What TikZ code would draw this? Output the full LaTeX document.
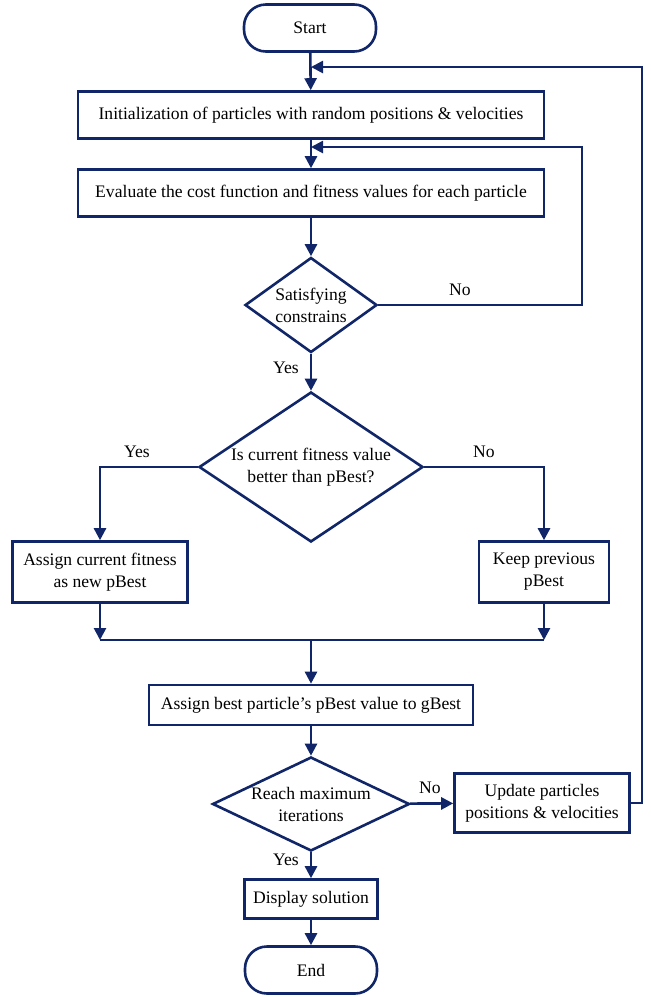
\documentclass[tikz,border=0pt]{standalone}
\usepackage{fontspec}
\setmainfont{Liberation Serif}
\usetikzlibrary{shapes.geometric,arrows.meta}
\definecolor{navy}{RGB}{16,38,104}
\tikzset{
  terminal/.style={draw=navy,line width=1.3pt,rounded corners=11pt,minimum width=66pt,minimum height=23.5pt,inner sep=1pt},
  process/.style={draw=navy,line width=1.3pt,minimum width=233pt,minimum height=23.5pt,inner sep=1pt},
  decision/.style={draw=navy,line width=1.3pt,diamond,inner sep=-3pt,align=center},
  flow/.style={draw=navy,line width=1.3pt,-{Triangle[length=6pt,width=6pt]}},
  line/.style={draw=navy,line width=1.3pt},
  answer/.style={inner sep=1pt}
}

\begin{document}
\begin{tikzpicture}[
  x=0.5pt,y=-0.5pt,
  every node/.append style={font=\fontsize{8.8}{11}\selectfont,align=center}
]
  \useasboundingbox (0,0) rectangle (650,997);
  \node[terminal] (start) at (310,28) {Start};
  \node[process] (init) at (311,115) {Initialization of particles with random positions \& velocities};
  \node[process] (eval) at (311,193) {Evaluate the cost function and fitness values for each particle};
  \node[decision,aspect=1.39,minimum width=66pt,minimum height=47.5pt] (sat) at (311,305) {Satisfying\\constrains};
  \node[decision,aspect=1.49,minimum width=112pt,minimum height=75pt] (better) at (311,467) {Is current fitness value\\better than pBest?};
  \node[process,minimum width=87.5pt,minimum height=30.5pt] (assign) at (100,572) {Assign current fitness\\as new pBest};
  \node[process,minimum width=65pt,minimum height=30.5pt] (keep) at (544,572) {Keep previous\\pBest};
  \node[process,minimum width=162pt,minimum height=20pt] (gbest) at (311,705) {Assign best particle's pBest value to gBest};
  \node[decision,aspect=2.1,minimum width=98.5pt,minimum height=47pt] (reach) at (311,804) {Reach maximum\\iterations};
  \node[process,minimum width=87.5pt,minimum height=29.5pt] (update) at (542,803) {Update particles\\positions \& velocities};
  \node[process,minimum width=66.5pt,minimum height=19.5pt] (show) at (311,899) {Display solution};
  \node[terminal] (end) at (311,970) {End};

  % junction points of the loops and the merge line
  \coordinate (j1) at (311,67);
  \coordinate (r1) at (642,67);
  \coordinate (j2) at (311,147);
  \coordinate (r2) at (582,147);
  \coordinate (ml) at (100,640);
  \coordinate (mr) at (544,640);
  \coordinate (mc) at (311,640);

  \draw[flow] (start) -- (init);
  \draw[flow] (init) -- (eval);
  \draw[flow] (eval) -- (sat);
  \draw[flow] (sat) -- (better);
  \draw[flow] (sat.east) -| (r2) -- (j2);
  \draw[flow] (better.west) -| (assign.north);
  \draw[flow] (better.east) -| (keep.north);
  \draw[flow] (assign) -- (ml);
  \draw[flow] (keep) -- (mr);
  \draw[line] (ml) -- (mr);
  \draw[flow] (mc) -- (gbest);
  \draw[flow] (gbest) -- (reach);
  \draw[flow] (reach) -- (update);
  \draw[flow] (update.east) -| (r1) -- (j1);
  \draw[flow] (reach) -- (show);
  \draw[flow] (show) -- (end);

  \node[answer] (no1) at (460,290) {No};
  \node[answer] (yes1) at (286,368) {Yes};
  \node[answer] (yes2) at (137,452) {Yes};
  \node[answer] (no2) at (484,452) {No};
  \node[answer] (no3) at (430,788) {No};
  \node[answer] (yes3) at (286,860) {Yes};
\end{tikzpicture}
\end{document}
